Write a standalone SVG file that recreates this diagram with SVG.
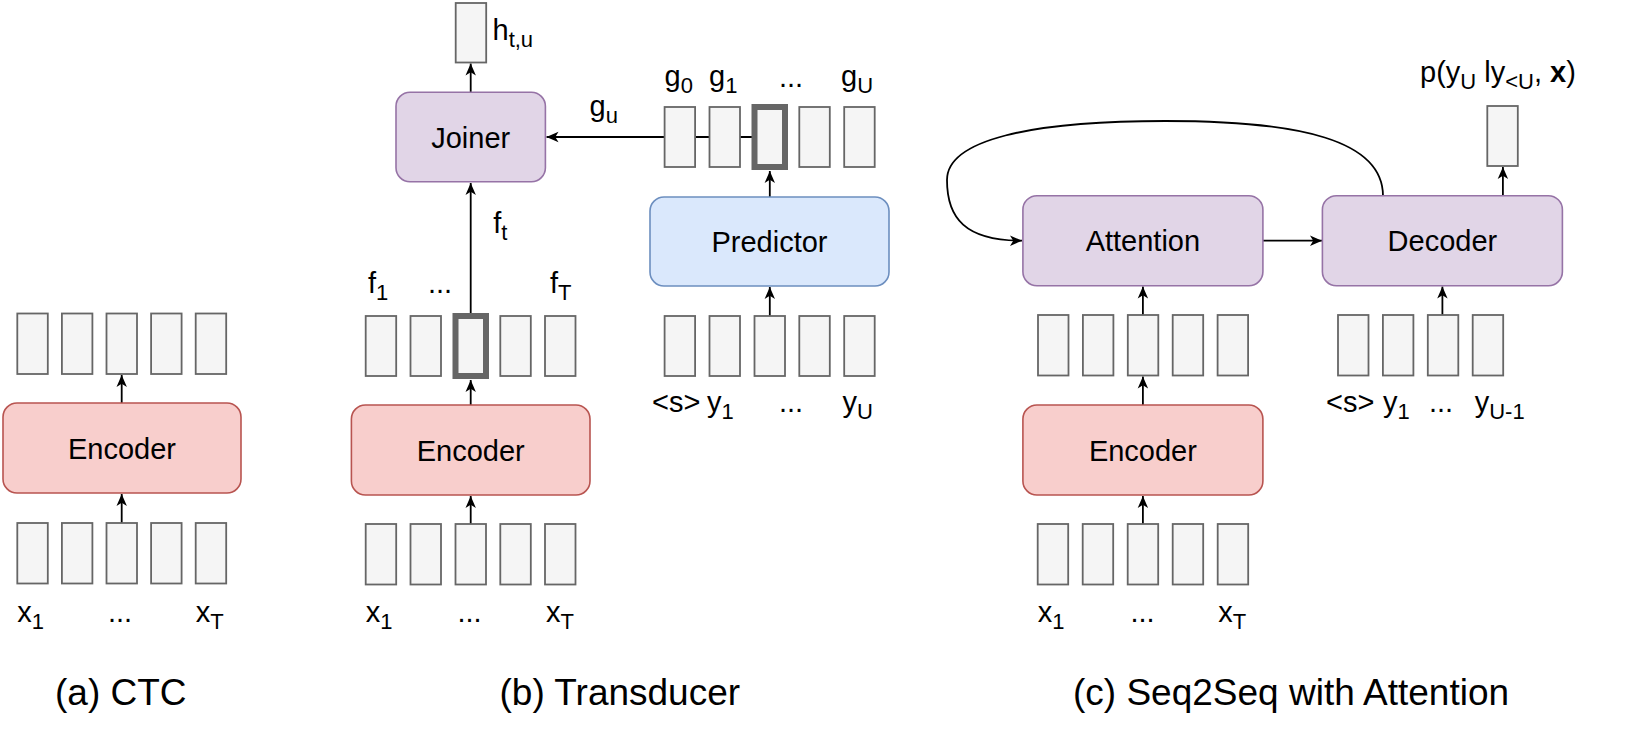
<svg xmlns="http://www.w3.org/2000/svg" width="1641" height="737" viewBox="0 0 1641 737">
<style>
text{font-family:"Liberation Sans",Arial,Helvetica,sans-serif;font-size:29px;fill:#000}
.cap{font-size:37px}
.sub{font-size:22px}
.mid{text-anchor:middle}
.cell{fill:#f5f5f5;stroke:#666666;stroke-width:1.8}
.hot{fill:#f5f5f5;stroke:#666666;stroke-width:6}
.enc{fill:#f8cecc;stroke:#b85450;stroke-width:1.6}
.pur{fill:#e1d5e7;stroke:#9673a6;stroke-width:1.6}
.blu{fill:#dae8fc;stroke:#6c8ebf;stroke-width:1.6}
.ln{fill:none;stroke:#000;stroke-width:1.8;marker-end:url(#ah)}
</style>
<defs>
<marker id="ah" markerUnits="userSpaceOnUse" viewBox="0 0 12 12" refX="12" refY="6" markerWidth="12" markerHeight="12" orient="auto">
<path d="M0,0.8 L12,6 L0,11.2 L3.2,6 z" fill="#000"/>
</marker>
</defs>
<rect width="1641" height="737" fill="#fff"/>

<g id="connectors">
<line class="ln" x1="121.7" y1="403" x2="121.7" y2="375"/>
<line class="ln" x1="121.7" y1="523" x2="121.7" y2="494"/>
<line class="ln" x1="470.7" y1="524" x2="470.7" y2="496"/>
<line class="ln" x1="470.7" y1="405" x2="470.7" y2="380"/>
<line class="ln" x1="470.7" y1="313" x2="470.7" y2="183"/>
<line class="ln" x1="470.7" y1="92" x2="470.7" y2="63.5"/>
<line class="ln" x1="769.8" y1="137" x2="546.5" y2="137"/>
<line class="ln" x1="769.8" y1="197" x2="769.8" y2="171"/>
<line class="ln" x1="769.8" y1="316" x2="769.8" y2="287"/>
<line class="ln" x1="1142.9" y1="524" x2="1142.9" y2="496"/>
<line class="ln" x1="1142.9" y1="405" x2="1142.9" y2="376.5"/>
<line class="ln" x1="1142.9" y1="315" x2="1142.9" y2="286.5"/>
<line class="ln" x1="1442.4" y1="315" x2="1442.4" y2="286.5"/>
<line class="ln" x1="1502.9" y1="196" x2="1502.9" y2="167"/>
<line class="ln" x1="1263" y1="240.7" x2="1322" y2="240.7"/>
<path class="ln" d="M1383,196 C1383,140 1300,121 1165,121 C1030,121 947,140 947,180 C947,218 965,240.7 1022,240.7"/>
</g>

<g id="panel-a">
<g id="a-outputs">
<rect class="cell" x="17.3" y="313.5" width="30.5" height="60.5"/>
<rect class="cell" x="61.9" y="313.5" width="30.5" height="60.5"/>
<rect class="cell" x="106.5" y="313.5" width="30.5" height="60.5"/>
<rect class="cell" x="151.1" y="313.5" width="30.5" height="60.5"/>
<rect class="cell" x="195.7" y="313.5" width="30.5" height="60.5"/>
</g>
<g id="a-encoder">
<rect class="enc" x="3" y="403" width="238" height="90" rx="14"/>
<text class="mid" x="122" y="458.5">Encoder</text>
</g>
<g id="a-inputs">
<rect class="cell" x="17.3" y="523" width="30.5" height="60.5"/>
<rect class="cell" x="61.9" y="523" width="30.5" height="60.5"/>
<rect class="cell" x="106.5" y="523" width="30.5" height="60.5"/>
<rect class="cell" x="151.1" y="523" width="30.5" height="60.5"/>
<rect class="cell" x="195.7" y="523" width="30.5" height="60.5"/>
<text x="17.3" y="622">x<tspan class="sub" dy="7">1</tspan></text>
<text x="108" y="622">...</text>
<text x="195.7" y="622">x<tspan class="sub" dy="7">T</tspan></text>
</g>
<text id="cap-a" class="cap" x="55" y="705">(a) CTC</text>
</g>

<g id="panel-b">
<g id="b-output">
<rect class="cell" x="455.7" y="3" width="30.5" height="59.5"/>
<text x="492.5" y="40">h<tspan class="sub" dy="7">t,u</tspan></text>
</g>
<g id="b-joiner">
<rect class="pur" x="396" y="92.3" width="149.4" height="89.4" rx="14"/>
<text class="mid" x="470.7" y="147.5">Joiner</text>
</g>
<text x="589.6" y="115.5">g<tspan class="sub" dy="7">u</tspan></text>
<g id="b-gs">
<rect class="cell" x="664.6" y="107" width="30.5" height="60"/>
<rect class="cell" x="709.5" y="107" width="30.5" height="60"/>
<rect class="hot" x="754.5" y="107" width="30.5" height="60"/>
<rect class="cell" x="799.3" y="107" width="30.5" height="60"/>
<rect class="cell" x="844.2" y="107" width="30.5" height="60"/>
<text x="664.6" y="85.5">g<tspan class="sub" dy="7">0</tspan></text>
<text x="709" y="85.5">g<tspan class="sub" dy="7">1</tspan></text>
<text x="779" y="87">...</text>
<text x="841" y="85.5">g<tspan class="sub" dy="7">U</tspan></text>
</g>
<g id="b-predictor">
<rect class="blu" x="650" y="197" width="239" height="89" rx="14"/>
<text class="mid" x="769.5" y="252">Predictor</text>
</g>
<g id="b-ys">
<rect class="cell" x="664.6" y="316" width="30.5" height="60"/>
<rect class="cell" x="709.5" y="316" width="30.5" height="60"/>
<rect class="cell" x="754.5" y="316" width="30.5" height="60"/>
<rect class="cell" x="799.3" y="316" width="30.5" height="60"/>
<rect class="cell" x="844.2" y="316" width="30.5" height="60"/>
<text x="652" y="412">&lt;s&gt;</text>
<text x="707" y="412">y<tspan class="sub" dy="7">1</tspan></text>
<text x="779" y="412">...</text>
<text x="842.5" y="412">y<tspan class="sub" dy="7">U</tspan></text>
</g>
<text x="493.3" y="233.3">f<tspan class="sub" dy="7">t</tspan></text>
<g id="b-fs">
<text x="368" y="293">f<tspan class="sub" dy="7">1</tspan></text>
<text x="428" y="293">...</text>
<text x="550" y="293">f<tspan class="sub" dy="7">T</tspan></text>
<rect class="cell" x="365.7" y="316" width="30.5" height="60"/>
<rect class="cell" x="410.5" y="316" width="30.5" height="60"/>
<rect class="hot" x="455.5" y="316" width="30.5" height="60"/>
<rect class="cell" x="500.3" y="316" width="30.5" height="60"/>
<rect class="cell" x="545" y="316" width="30.5" height="60"/>
</g>
<g id="b-encoder">
<rect class="enc" x="351.4" y="405" width="238.6" height="90" rx="14"/>
<text class="mid" x="470.7" y="460.5">Encoder</text>
</g>
<g id="b-xs">
<rect class="cell" x="365.7" y="524" width="30.5" height="60.5"/>
<rect class="cell" x="410.5" y="524" width="30.5" height="60.5"/>
<rect class="cell" x="455.5" y="524" width="30.5" height="60.5"/>
<rect class="cell" x="500.3" y="524" width="30.5" height="60.5"/>
<rect class="cell" x="545" y="524" width="30.5" height="60.5"/>
<text x="365.7" y="622">x<tspan class="sub" dy="7">1</tspan></text>
<text x="457.5" y="622">...</text>
<text x="546" y="622">x<tspan class="sub" dy="7">T</tspan></text>
</g>
<text id="cap-b" class="cap" x="499.5" y="705">(b) Transducer</text>
</g>

<g id="panel-c">
<g id="c-output">
<text x="1420" y="82">p(y<tspan class="sub" dy="7">U</tspan><tspan dy="-7"> ly</tspan><tspan class="sub" dy="7">&lt;U</tspan><tspan dy="-7">, </tspan><tspan font-weight="bold">x</tspan>)</text>
<rect class="cell" x="1487.3" y="106" width="30.5" height="60"/>
</g>
<g id="c-attention">
<rect class="pur" x="1022.9" y="195.7" width="240" height="90" rx="14"/>
<text class="mid" x="1142.9" y="251">Attention</text>
</g>
<g id="c-decoder">
<rect class="pur" x="1322.4" y="195.7" width="240" height="90" rx="14"/>
<text class="mid" x="1442.4" y="251">Decoder</text>
</g>
<g id="c-hs">
<rect class="cell" x="1038" y="315" width="30.5" height="60.5"/>
<rect class="cell" x="1082.9" y="315" width="30.5" height="60.5"/>
<rect class="cell" x="1127.8" y="315" width="30.5" height="60.5"/>
<rect class="cell" x="1172.7" y="315" width="30.5" height="60.5"/>
<rect class="cell" x="1217.6" y="315" width="30.5" height="60.5"/>
</g>
<g id="c-ys">
<rect class="cell" x="1338" y="315" width="30.5" height="60.5"/>
<rect class="cell" x="1382.9" y="315" width="30.5" height="60.5"/>
<rect class="cell" x="1427.8" y="315" width="30.5" height="60.5"/>
<rect class="cell" x="1472.7" y="315" width="30.5" height="60.5"/>
<text x="1326" y="412">&lt;s&gt;</text>
<text x="1382.9" y="412">y<tspan class="sub" dy="7">1</tspan></text>
<text x="1429" y="412">...</text>
<text x="1474.7" y="412">y<tspan class="sub" dy="7">U-1</tspan></text>
</g>
<g id="c-encoder">
<rect class="enc" x="1022.9" y="405" width="240" height="90" rx="14"/>
<text class="mid" x="1142.9" y="460.5">Encoder</text>
</g>
<g id="c-xs">
<rect class="cell" x="1037.7" y="524" width="30.5" height="60.5"/>
<rect class="cell" x="1082.7" y="524" width="30.5" height="60.5"/>
<rect class="cell" x="1127.7" y="524" width="30.5" height="60.5"/>
<rect class="cell" x="1172.7" y="524" width="30.5" height="60.5"/>
<rect class="cell" x="1217.7" y="524" width="30.5" height="60.5"/>
<text x="1037.7" y="622">x<tspan class="sub" dy="7">1</tspan></text>
<text x="1130.5" y="622">...</text>
<text x="1218.3" y="622">x<tspan class="sub" dy="7">T</tspan></text>
</g>
<text id="cap-c" class="cap" x="1073" y="705">(c) Seq2Seq with Attention</text>
</g>
</svg>
